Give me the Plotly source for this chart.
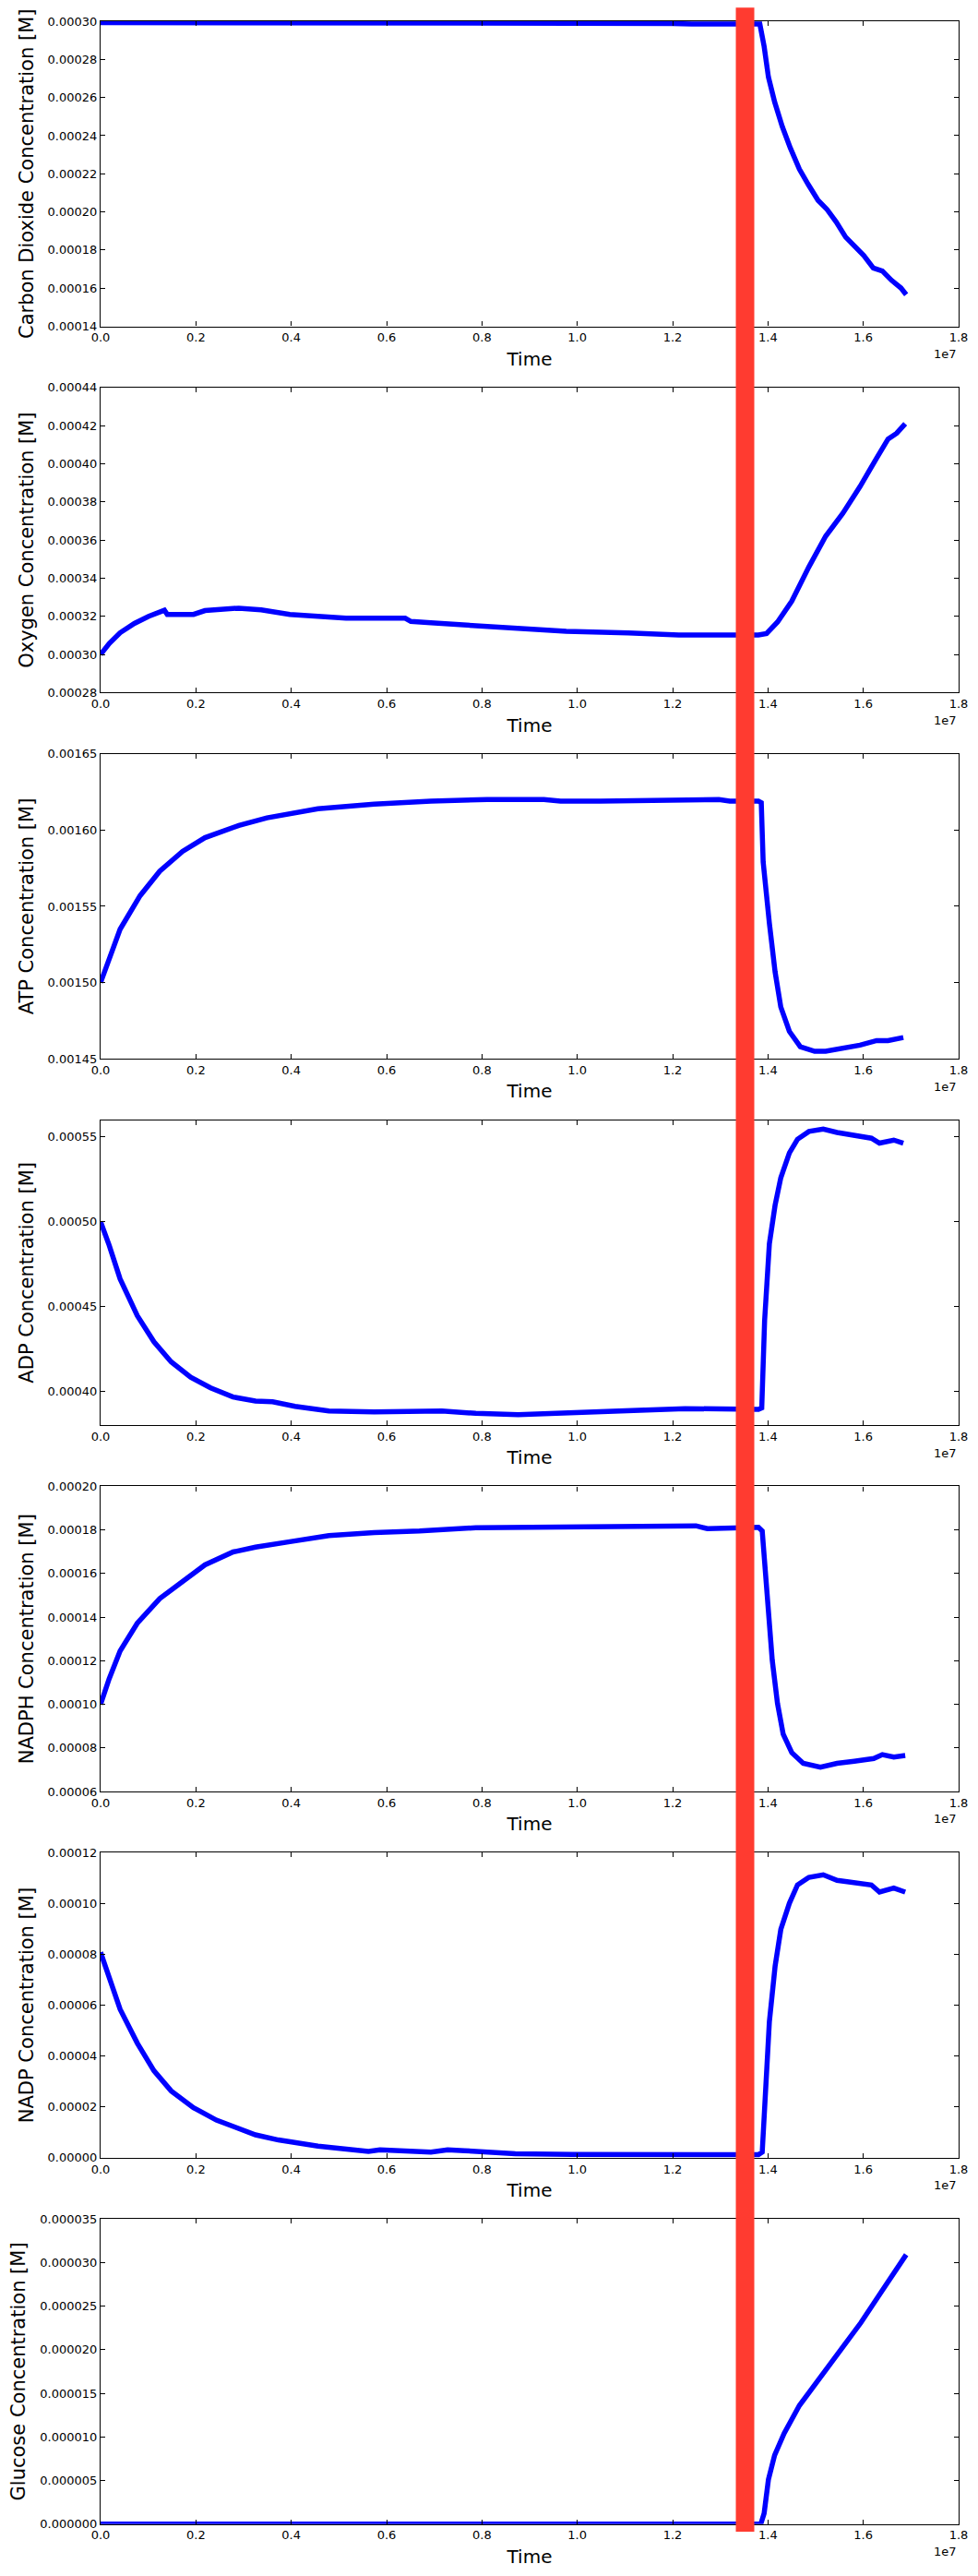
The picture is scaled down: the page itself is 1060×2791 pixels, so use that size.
import plotly.graph_objects as go
from plotly.subplots import make_subplots

# ---------------- data (time in units of 1e7) ----------------
co2_t = [0.0, 0.36, 0.37, 1.20, 1.24, 1.383, 1.392, 1.401, 1.414, 1.430, 1.447, 1.466, 1.485,
         1.505, 1.524, 1.543, 1.563, 1.582, 1.601, 1.621, 1.640, 1.659, 1.679, 1.690]
co2_c = [0.0002993, 0.0002993, 0.0002988, 0.0002988, 0.0002985, 0.0002985, 0.0002868, 0.0002707,
         0.0002577, 0.0002448, 0.0002335, 0.0002224, 0.0002142, 0.0002061, 0.0002013, 0.0001948,
         0.0001868, 0.0001819, 0.0001771, 0.0001706, 0.0001690, 0.0001642, 0.0001601, 0.0001566]

o2_t = [0.0, 0.018, 0.041, 0.071, 0.101, 0.134, 0.140, 0.195, 0.219, 0.290, 0.337, 0.397, 0.456,
        0.515, 0.639, 0.651, 0.693, 0.811, 0.929, 0.977, 1.107, 1.213, 1.380, 1.397, 1.420, 1.450,
        1.486, 1.521, 1.557, 1.593, 1.628, 1.652, 1.670, 1.688]
o2_c = [0.000300, 0.0003057, 0.0003114, 0.0003163, 0.000320, 0.0003232, 0.000321, 0.000321,
        0.000323, 0.0003243, 0.0003234, 0.000321, 0.000320, 0.000319, 0.000319, 0.0003173,
        0.0003166, 0.000315, 0.0003134, 0.0003121, 0.0003113, 0.0003102, 0.0003102, 0.000311,
        0.000317, 0.000328, 0.000346, 0.000362, 0.000374, 0.000388, 0.000403, 0.000413,
        0.000416, 0.000421]

atp_t = [0.0, 0.041, 0.083, 0.124, 0.172, 0.219, 0.290, 0.349, 0.456, 0.574, 0.693, 0.811, 0.930,
         0.965, 1.048, 1.166, 1.297, 1.320, 1.380, 1.386, 1.390, 1.403, 1.415, 1.427, 1.445, 1.468,
         1.498, 1.521, 1.557, 1.593, 1.628, 1.652, 1.684]
atp_c = [0.001500, 0.001535, 0.001557, 0.001573, 0.001586, 0.001595, 0.001603, 0.001608, 0.001614,
         0.001617, 0.001619, 0.001620, 0.001620, 0.001619, 0.001619, 0.0016195, 0.001620, 0.001619,
         0.001619, 0.001618, 0.001579, 0.001539, 0.001507, 0.001484, 0.001468, 0.001458, 0.001455,
         0.001455, 0.001457, 0.001459, 0.001462, 0.001462, 0.001464]

adp_t = [0.0, 0.018, 0.041, 0.077, 0.112, 0.148, 0.189, 0.231, 0.278, 0.325, 0.361, 0.408, 0.479,
         0.574, 0.716, 0.787, 0.876, 0.989, 1.095, 1.131, 1.226, 1.380, 1.387, 1.393, 1.403, 1.415,
         1.427, 1.445, 1.462, 1.486, 1.516, 1.545, 1.581, 1.617, 1.634, 1.664, 1.684]
adp_c = [0.000500, 0.0004862, 0.0004663, 0.0004446, 0.0004292, 0.0004174, 0.0004083, 0.000402,
         0.0003966, 0.0003942, 0.0003938, 0.0003911, 0.0003884, 0.0003879, 0.0003884, 0.000387,
         0.0003862, 0.0003875, 0.000388, 0.0003889, 0.0003898, 0.0003893, 0.0003902, 0.0004417,
         0.000487, 0.0005098, 0.000526, 0.0005406, 0.0005487, 0.0005533, 0.0005547, 0.0005527,
         0.0005509, 0.0005493, 0.0005464, 0.0005482, 0.0005464]

nadph_t = [0.0, 0.018, 0.041, 0.077, 0.124, 0.172, 0.219, 0.278, 0.325, 0.397, 0.479, 0.574, 0.669,
           0.787, 0.929, 1.048, 1.249, 1.273, 1.380, 1.388, 1.397, 1.409, 1.420, 1.432, 1.450,
           1.474, 1.510, 1.545, 1.581, 1.622, 1.640, 1.664, 1.688]
nadph_c = [0.000100, 0.0001117, 0.0001245, 0.0001372, 0.0001485, 0.0001562, 0.000164, 0.0001699,
           0.0001721, 0.0001746, 0.0001774, 0.0001788, 0.0001795, 0.000181, 0.0001812, 0.0001816,
           0.0001819, 0.0001806, 0.0001812, 0.0001795, 0.0001524, 0.0001203, 0.0001004, 0.0000863,
           0.0000778, 0.0000729, 0.0000711, 0.0000729, 0.0000739, 0.0000751, 0.0000769, 0.0000758,
           0.0000765]

nadp_t = [0.0, 0.018, 0.041, 0.077, 0.112, 0.148, 0.195, 0.243, 0.290, 0.325, 0.373, 0.456, 0.562,
          0.586, 0.693, 0.728, 0.764, 0.870, 0.989, 1.166, 1.380, 1.388, 1.394, 1.403, 1.415, 1.427,
          1.445, 1.462, 1.486, 1.516, 1.545, 1.581, 1.617, 1.634, 1.664, 1.688]
nadp_c = [0.0000808, 0.0000705, 0.0000584, 0.0000451, 0.0000342, 0.0000263, 0.0000197, 0.0000148,
          0.0000112, 0.000009, 0.000007, 0.0000046, 0.0000025, 0.0000031, 0.0000022, 0.0000031,
          0.0000028, 0.0000016, 0.0000013, 0.0000012, 0.0000012, 0.0000022, 0.0000233, 0.0000535,
          0.0000753, 0.0000898, 0.0001001, 0.0001073, 0.0001103, 0.0001113, 0.0001091, 0.0001081,
          0.0001073, 0.0001045, 0.0001061, 0.0001045]

glc_t = [0.0, 1.385, 1.392, 1.401, 1.414, 1.434, 1.466, 1.505, 1.543, 1.595, 1.640, 1.690]
glc_c = [0.0, 0.0, 0.00000123, 0.0000051, 0.0000079, 0.0000104, 0.0000136, 0.0000164, 0.0000192,
         0.0000231, 0.0000268, 0.0000309]

event_time = 1.352  # red marker (1e7)

y_titles = ["Carbon Dioxide Concentration [M]", "Oxygen Concentration [M]",
            "ATP Concentration [M]", "ADP Concentration [M]", "NADPH Concentration [M]",
            "NADP Concentration [M]", "Glucose Concentration [M]"]
y_ranges = [[0.00014, 0.00030], [0.00028, 0.00044], [0.00145, 0.00165], [0.00038, 0.00056],
            [0.00006, 0.00020], [0.0, 0.00012], [0.0, 0.000035]]
y_dticks = [0.00002, 0.00002, 0.00005, 0.00005, 0.00002, 0.00002, 0.000005]
y_formats = [".5f", ".5f", ".5f", ".5f", ".5f", ".5f", ".6f"]
x_ticks = [0.0, 0.2, 0.4, 0.6, 0.8, 1.0, 1.2, 1.4, 1.6, 1.8]

series = [(co2_t, co2_c), (o2_t, o2_c), (atp_t, atp_c), (adp_t, adp_c),
          (nadph_t, nadph_c), (nadp_t, nadp_c), (glc_t, glc_c)]

# ---------------- layout ----------------
# page body has an 8px margin; figure sized so the page is exactly 1060x2791
OFF = 8
W, H = 1052, 2775
ML, MT = 109.3 - OFF, 22.7 - OFF
MR = W + OFF - 1039.3
MB = H + OFF - 2735
plot_h = H - MT - MB
pitch, panel_h = 396.9, 330.6
FONT = "DejaVu Sans"

fig = make_subplots(rows=7, cols=1)

for i, (t, c) in enumerate(series):
    r = i + 1
    fig.add_trace(go.Scatter(x=t, y=c, mode="lines",
                             line=dict(color="#0000ff", width=5.5),
                             showlegend=False, hoverinfo="x+y"), row=r, col=1)
    top = i * pitch
    d1 = 1 - top / plot_h
    d0 = 1 - (top + panel_h) / plot_h
    axis_common = dict(showline=True, linecolor="black", linewidth=1.2, mirror="ticks",
                       ticks="inside", ticklen=5, tickwidth=1, tickcolor="black",
                       showgrid=False, zeroline=False, automargin=False,
                       tickfont=dict(family=FONT, size=13, color="black"))
    fig.update_xaxes(range=[0, 1.8], tickvals=x_ticks, ticktext=[f"{v:.1f}" for v in x_ticks],
                     title=dict(text="Time", font=dict(family=FONT, size=20, color="black"),
                                standoff=9),
                     row=r, col=1, **axis_common)
    fig.update_yaxes(range=y_ranges[i], domain=[d0, d1], tick0=0, dtick=y_dticks[i],
                     tickformat=y_formats[i],
                     title=dict(text=y_titles[i], font=dict(family=FONT, size=21, color="black"),
                                standoff=9),
                     row=r, col=1, **axis_common)
    xa = "x" if i == 0 else f"x{r}"
    ya = "y" if i == 0 else f"y{r}"
    fig.add_annotation(text="1e7", xref=f"{xa} domain", yref=f"{ya} domain",
                       x=1.0, y=-30 / panel_h, xanchor="right", yanchor="middle",
                       showarrow=False, font=dict(family=FONT, size=13, color="black"))

fig.add_shape(type="line", xref="x", yref="paper", x0=event_time, x1=event_time,
              y0=(H - MB - (2743 - OFF)) / plot_h, y1=(H - MB - (8 - OFF)) / plot_h,
              line=dict(color="#ff3b30", width=20), layer="above")

fig.update_layout(width=W, height=H, margin=dict(l=ML, r=MR, t=MT, b=MB, autoexpand=False),
                  paper_bgcolor="white", plot_bgcolor="white",
                  font=dict(family=FONT, color="black"))

fig.write_html("out.html")
